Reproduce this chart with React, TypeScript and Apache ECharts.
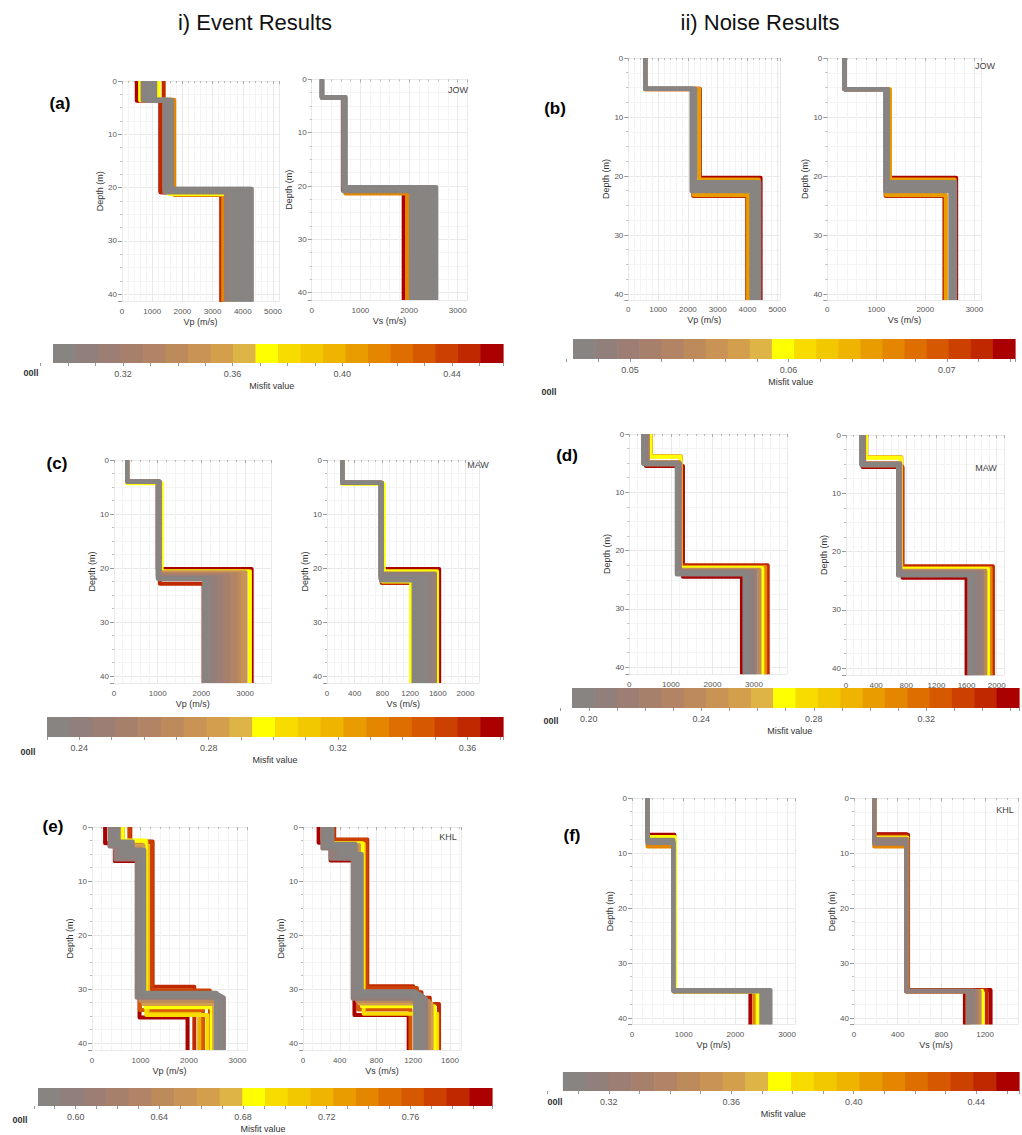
import React, { useEffect, useRef } from "react";
import * as echarts from "echarts";

// ---------------- colour scale: 20 bins, low misfit (grey) -> high misfit (red) -------------
const BAR_COLORS = [
  "#878482", "#917f7b", "#9c7e74", "#a7806c", "#b28465", "#bd8a5c", "#c89355", "#d39f4d", "#dfb446",
  "#ffff00", "#f8dc00", "#f2c800", "#eeb400", "#e99c00", "#e48600", "#de6e00", "#d65800", "#cc4000", "#c02800", "#aa0000",
];

// colour-bar extents [misfit at left end, misfit at right end]
const CB_A = [0.2945, 0.4586];
const CB_B = [0.0464, 0.0743];
const CB_C = [0.23, 0.371];
const CB_D = [0.194, 0.353];
const CB_E = [0.582, 0.799];
const CB_F = [0.305, 0.454];

// ---------------- velocity models: [misfit, v1, d1, v2, d2, ..., vN] (v in m/s, d in m) -------------
// (a) Event, JOW
const EV_JOW_VP = [
  [0.4545, 490, 3.7, 1270, 20.8, 3290],
  [0.4463, 1380, 3.6, 1280, 20.9, 3300],
  [0.4134, 900, 3.5, 1730, 21.4, 3350],
  [0.3724, 600, 3.6, 1560, 21.2, 3600],
  [0.3724, 1220, 3.5, 1560, 21.1, 3600],
  [0.3068, 680, 3.6, 1400, 20.9, 3440],
  [0.3068, 740, 3.5, 1430, 20.8, 3530],
  [0.2986, 800, 3.7, 1460, 20.7, 3620],
  [0.2986, 860, 3.6, 1490, 20.6, 3710],
  [0.2986, 920, 3.5, 1520, 20.6, 3800],
  [0.2986, 980, 3.7, 1550, 20.5, 3890],
  [0.2986, 1040, 3.6, 1580, 20.4, 3980],
  [0.2986, 1100, 3.5, 1610, 20.4, 4070],
  [0.2986, 1060, 3.6, 1640, 20.3, 4160],
  [0.2986, 950, 3.5, 1650, 20.2, 4250],
  [0.2986, 850, 3.6, 1620, 20.2, 4300],
];
const EV_JOW_VS = [
  [0.4545, 210, 3.4, 640, 20.8, 1890],
  [0.4134, 215, 3.5, 690, 21.4, 1960],
  [0.2986, 205, 3.4, 650, 21.0, 2040],
  [0.2986, 210, 3.3, 660, 20.9, 2100],
  [0.2986, 215, 3.4, 670, 20.8, 2160],
  [0.2986, 210, 3.5, 680, 20.7, 2220],
  [0.2986, 205, 3.4, 690, 20.6, 2280],
  [0.2986, 215, 3.3, 700, 20.5, 2340],
  [0.2986, 210, 3.4, 680, 20.4, 2400],
  [0.2986, 220, 3.5, 670, 20.3, 2460],
  [0.2986, 205, 3.4, 660, 20.2, 2520],
  [0.2986, 210, 3.3, 650, 20.2, 2560],
];
// (b) Noise, JOW
const NS_JOW_VP = [
  [0.0736, 570, 5.2, 2400, 20.3, 4440],
  [0.0722, 565, 5.3, 2180, 23.4, 3990],
  [0.0652, 570, 5.2, 2380, 20.6, 4380],
  [0.0652, 560, 5.3, 2200, 23.2, 4020],
  [0.0471, 570, 5.2, 2120, 22.6, 4130],
  [0.0471, 570, 5.2, 2150, 22.2, 4200],
  [0.0471, 570, 5.2, 2180, 21.8, 4270],
  [0.0471, 570, 5.2, 2220, 21.4, 4340],
  [0.0471, 570, 5.2, 2250, 21.0, 4400],
];
const NS_JOW_VS = [
  [0.0736, 350, 5.3, 1250, 20.3, 2630],
  [0.0722, 345, 5.3, 1190, 23.4, 2390],
  [0.0652, 350, 5.3, 1280, 20.6, 2600],
  [0.0652, 350, 5.3, 1200, 23.2, 2420],
  [0.0471, 350, 5.3, 1180, 22.6, 2510],
  [0.0471, 350, 5.3, 1195, 22.2, 2540],
  [0.0471, 350, 5.3, 1210, 21.8, 2570],
  [0.0471, 350, 5.3, 1225, 21.4, 2590],
  [0.0471, 350, 5.3, 1240, 21.0, 2610],
];
// (c) Event, MAW
const EV_MAW_VP = [
  [0.3675, 300, 4.0, 1000, 20.2, 3150],
  [0.3604, 300, 4.1, 1050, 22.9, 2050],
  [0.297, 300, 4.3, 1090, 20.6, 3110],
  [0.2758, 300, 4.0, 1040, 20.8, 3010],
  [0.2758, 300, 4.0, 1030, 21.0, 2940],
  [0.2688, 300, 4.0, 1020, 21.1, 2860],
  [0.2617, 300, 4.0, 1050, 21.2, 2780],
  [0.2617, 300, 4.0, 1010, 21.3, 2700],
  [0.2547, 300, 4.0, 1040, 21.4, 2620],
  [0.2547, 300, 4.0, 1000, 21.5, 2540],
  [0.2476, 300, 4.0, 1030, 21.6, 2460],
  [0.2476, 300, 4.0, 1010, 21.7, 2380],
  [0.2406, 300, 4.0, 1040, 21.8, 2300],
  [0.2406, 300, 4.0, 1020, 21.9, 2220],
  [0.2335, 300, 4.0, 1000, 22.0, 2140],
  [0.2335, 300, 4.0, 1030, 22.1, 2060],
];
const EV_MAW_VS = [
  [0.3675, 220, 4.2, 800, 20.2, 1620],
  [0.3604, 220, 4.3, 790, 22.8, 1300],
  [0.297, 220, 4.4, 820, 20.6, 1590],
  [0.297, 220, 4.2, 800, 22.5, 1215],
  [0.2476, 220, 4.2, 790, 21.0, 1560],
  [0.2406, 220, 4.2, 780, 21.2, 1520],
  [0.2406, 220, 4.2, 770, 21.4, 1480],
  [0.2335, 220, 4.2, 780, 21.6, 1440],
  [0.2335, 220, 4.2, 790, 21.8, 1400],
  [0.2335, 220, 4.2, 770, 22.0, 1360],
  [0.2335, 220, 4.2, 780, 22.1, 1320],
  [0.2335, 220, 4.2, 790, 22.2, 1280],
  [0.2335, 220, 4.2, 780, 22.3, 1250],
];
// (d) Noise, MAW
const NS_MAW_VP = [
  [0.349, 400, 5.5, 1290, 24.5, 2710],
  [0.3411, 420, 5.3, 1250, 22.5, 3330],
  [0.3093, 520, 3.8, 1240, 22.8, 3270],
  [0.2695, 510, 3.9, 1230, 23.0, 3200],
  [0.2377, 450, 4.8, 1200, 23.3, 3130],
  [0.2139, 430, 5.0, 1220, 23.5, 3040],
  [0.2059, 400, 5.1, 1200, 23.7, 2980],
  [0.2059, 380, 5.2, 1180, 23.8, 2920],
  [0.198, 360, 5.1, 1160, 23.9, 2860],
  [0.198, 340, 5.2, 1150, 24.0, 2810],
  [0.198, 330, 5.0, 1140, 24.1, 2770],
];
const NS_MAW_VS = [
  [0.349, 220, 5.5, 750, 24.5, 1600],
  [0.3411, 225, 5.3, 740, 22.5, 1950],
  [0.3093, 270, 3.8, 735, 22.8, 1920],
  [0.2695, 265, 3.9, 730, 23.0, 1885],
  [0.2377, 240, 4.8, 720, 23.3, 1850],
  [0.2139, 240, 5.0, 720, 23.5, 1810],
  [0.2059, 225, 5.1, 710, 23.7, 1770],
  [0.2059, 215, 5.2, 700, 23.8, 1730],
  [0.198, 210, 5.1, 690, 23.9, 1690],
  [0.198, 205, 5.2, 700, 24.0, 1660],
  [0.198, 200, 5.0, 690, 24.1, 1635],
];
// (e) Event, KHL
const EV_KHL_VP = [
  [0.7937, 270, 3.0, 470, 6.3, 980, 35.3, 1970],
  [0.7828, 790, 2.7, 1250, 29.6, 2110],
  [0.772, 770, 2.8, 1230, 30.3, 2430],
  [0.7611, 520, 4.5, 990, 33.9, 2290],
  [0.7177, 600, 3.5, 1150, 34.6, 2210],
  [0.696, 640, 2.6, 1120, 34.8, 2380],
  [0.6851, 620, 2.5, 1100, 33.4, 2470],
  [0.6634, 560, 3.4, 1060, 32.8, 2520],
  [0.6417, 470, 4.0, 1000, 32.2, 2560],
  [0.5983, 360, 3.6, 480, 6.0, 920, 31.6, 2720],
  [0.5983, 380, 3.5, 520, 5.8, 940, 31.5, 2700],
  [0.5983, 400, 3.4, 560, 5.6, 960, 31.4, 2680],
  [0.5874, 420, 3.3, 600, 5.4, 980, 31.3, 2660],
  [0.5874, 440, 3.2, 640, 5.2, 1000, 31.2, 2640],
  [0.5874, 460, 3.1, 680, 5.0, 1020, 31.1, 2620],
  [0.5874, 480, 3.0, 720, 4.8, 1040, 31.0, 2600],
  [0.5874, 500, 2.9, 760, 4.6, 1060, 30.9, 2580],
  [0.5874, 520, 2.8, 800, 4.4, 1070, 30.8, 2570],
  [0.5874, 540, 2.7, 840, 4.2, 1080, 30.7, 2560],
];
const EV_KHL_VS = [
  [0.7937, 170, 2.9, 300, 6.2, 560, 34.8, 1150],
  [0.7828, 340, 2.3, 700, 29.5, 1200, 30.6, 1290, 31.6, 1380, 32.8, 1480],
  [0.772, 330, 2.4, 690, 29.8, 1240],
  [0.7611, 250, 3.0, 480, 5.0, 600, 33.8, 1170],
  [0.696, 260, 3.1, 660, 34.6, 1460],
  [0.6851, 270, 3.0, 645, 33.2, 1430],
  [0.6634, 260, 3.3, 610, 32.7, 1400],
  [0.6417, 250, 3.5, 590, 32.2, 1370],
  [0.5983, 210, 4.0, 300, 5.9, 540, 31.8, 1340],
  [0.5983, 225, 3.9, 330, 5.8, 550, 31.6, 1325],
  [0.5983, 240, 3.8, 360, 5.7, 560, 31.4, 1310],
  [0.5874, 255, 3.7, 390, 5.6, 575, 31.2, 1295],
  [0.5874, 270, 3.6, 420, 5.5, 590, 31.0, 1280],
  [0.5874, 285, 3.5, 450, 5.4, 600, 30.9, 1265],
  [0.5874, 300, 3.4, 480, 5.3, 610, 30.8, 1250],
  [0.5874, 310, 3.3, 510, 5.2, 620, 30.7, 1240],
  [0.5874, 315, 3.2, 540, 5.1, 630, 30.5, 1230],
  [0.5874, 320, 3.1, 570, 5.0, 640, 30.4, 1220],
];
// (f) Noise, KHL
const NS_KHL_VP = [
  [0.4503, 300, 6.7, 820, 35.2, 2290],
  [0.4131, 300, 8.8, 815, 35.2, 2370],
  [0.3758, 300, 7.1, 830, 35.2, 2430],
  [0.3087, 300, 7.6, 800, 34.9, 2680],
  [0.3087, 300, 7.8, 795, 35.0, 2620],
  [0.3087, 300, 8.0, 805, 35.1, 2560],
  [0.3087, 300, 8.2, 800, 35.2, 2500],
];
const NS_KHL_VS = [
  [0.4503, 185, 6.6, 480, 35.2, 1015],
  [0.4503, 185, 6.7, 495, 34.9, 1250],
  [0.4429, 185, 6.8, 490, 34.9, 1215],
  [0.4131, 185, 8.8, 478, 35.2, 1040],
  [0.3758, 185, 7.2, 488, 35.1, 1175],
  [0.346, 185, 7.4, 485, 35.1, 1150],
  [0.3311, 185, 7.5, 482, 35.1, 1125],
  [0.3162, 185, 7.7, 478, 35.0, 1095],
  [0.3162, 185, 8.0, 482, 35.1, 1065],
  [0.3162, 185, 8.3, 476, 35.2, 1040],
];

// ---------------- texts -------------
const TITLES = ["i) Event Results", "ii) Noise Results"];
const PANEL_LETTERS = ["(a)", "(b)", "(c)", "(d)", "(e)", "(f)"];
const STATIONS = ["JOW", "JOW", "MAW", "MAW", "KHL", "KHL"];
const X_NAMES = ["Vp (m/s)", "Vs (m/s)"];
const Y_NAME = "Depth (m)";
const CB_NAME = "Misfit value";

// ---------------- layout (pixels) -------------
// per subplot: [px at v=0, px per m/s, xMax, xStep, minorSplit, py at depth 0, px per m, yMax]
const SUB_LAYOUT = [
  [122, 0.0302, 5200, 1000, 5, 81, 5.33, 41.4],
  [311.7, 0.04867, 3200, 1000, 5, 79.4, 5.33, 41.4],
  [628.3, 0.0298, 5100, 1000, 5, 58, 5.9, 41.0],
  [827.3, 0.049, 3150, 1000, 5, 58, 5.9, 41.0],
  [114, 0.0437, 3600, 1000, 5, 460, 5.4, 41.3],
  [327, 0.06925, 2200, 400, 4, 460, 5.4, 41.3],
  [629.3, 0.04157, 3800, 1000, 5, 434, 5.83, 41.2],
  [846, 0.07535, 2100, 400, 4, 435, 5.83, 41.2],
  [92, 0.0485, 3200, 1000, 5, 827, 5.4, 41.3],
  [303, 0.09188, 1720, 400, 4, 827, 5.4, 41.3],
  [632, 0.0517, 3150, 1000, 5, 798, 5.5, 41.2],
  [854, 0.10925, 1500, 400, 4, 798, 5.5, 41.2],
];
// per colour bar: [px left, px right, top, bottom, axisMin, tickStep, labelStep]
const CB_LAYOUT = [
  [53, 503, 344, 363, 0.29, 0.01, 0.04],
  [573, 1015, 339, 359, 0.046, 0.002, 0.01],
  [47, 503, 717, 737, 0.23, 0.01, 0.04],
  [572, 1020, 688, 708, 0.19, 0.01, 0.04],
  [38, 492, 1088, 1106, 0.58, 0.01, 0.04],
  [563, 1022, 1072, 1091, 0.3, 0.01, 0.04],
];
const TITLE_POS = [[255, 22], [760, 22]];
const LETTER_POS = [[60, 103], [555, 108], [57, 463], [567, 455], [53, 826], [572, 835]];
const STATION_POS = [[458, 90], [985, 66], [478, 465], [986, 468], [448, 837], [1005, 810]];
const STRAY_POS = [[31, 373], [549, 392], [28, 752], [551, 721], [20, 1120], [555, 1102]];

const SUBPLOTS = [
  { models: EV_JOW_VP, cb: CB_A }, { models: EV_JOW_VS, cb: CB_A },
  { models: NS_JOW_VP, cb: CB_B }, { models: NS_JOW_VS, cb: CB_B },
  { models: EV_MAW_VP, cb: CB_C }, { models: EV_MAW_VS, cb: CB_C },
  { models: NS_MAW_VP, cb: CB_D }, { models: NS_MAW_VS, cb: CB_D },
  { models: EV_KHL_VP, cb: CB_E }, { models: EV_KHL_VS, cb: CB_E },
  { models: NS_KHL_VP, cb: CB_F }, { models: NS_KHL_VS, cb: CB_F },
];
const COLORBARS = [CB_A, CB_B, CB_C, CB_D, CB_E, CB_F];

const FONT = "Liberation Sans";

function binOf(m: number, range: number[]) {
  const k = Math.floor(((m - range[0]) / (range[1] - range[0])) * BAR_COLORS.length);
  return Math.max(0, Math.min(BAR_COLORS.length - 1, k));
}

function stepPoints(model: number[], bottom: number) {
  const pts: number[][] = [];
  let top = 0;
  for (let i = 1; i < model.length; i += 2) {
    const v = model[i];
    const d = i + 1 < model.length ? model[i + 1] : bottom;
    pts.push([v, top], [v, d]);
    top = d;
  }
  return pts;
}

function buildOption() {
  const grid: any[] = [];
  const xAxis: any[] = [];
  const yAxis: any[] = [];
  const series: any[] = [];
  const labelStyle = { color: "#555", fontSize: 8, fontFamily: FONT };
  const nameStyle = { color: "#333", fontSize: 9, fontFamily: FONT };

  SUBPLOTS.forEach((sp, i) => {
    const [x0, xs, xMax, xStep, minor, y0, ys, yMax] = SUB_LAYOUT[i];
    grid.push({ left: x0, top: y0, width: xMax * xs, height: yMax * ys });
    xAxis.push({
      type: "value", gridIndex: i, min: 0, max: xMax, interval: xStep, position: "bottom",
      name: X_NAMES[i % 2], nameLocation: "middle", nameGap: 16, nameTextStyle: nameStyle,
      axisLine: { show: false },
      axisTick: { show: true, length: 3, lineStyle: { color: "#aaa" } },
      minorTick: { show: true, splitNumber: minor, length: 2, lineStyle: { color: "#bbb" } },
      axisLabel: {
        ...labelStyle, margin: 6,
        formatter: (v: number) => (Math.abs(v % xStep) < 1e-6 ? String(v) : ""),
      },
      splitLine: { show: true, lineStyle: { color: "#e9e9e9", width: 1 } },
      minorSplitLine: { show: true, lineStyle: { color: "#f4f4f4", width: 1 } },
    });
    yAxis.push({
      type: "value", gridIndex: i, min: 0, max: yMax, interval: 10, inverse: true,
      name: Y_NAME, nameLocation: "middle", nameGap: 15, nameRotate: 90, nameTextStyle: nameStyle,
      axisLine: { show: false },
      axisTick: { show: true, length: 4, lineStyle: { color: "#999" } },
      minorTick: { show: true, splitNumber: 4, length: 2, lineStyle: { color: "#bbb" } },
      axisLabel: {
        ...labelStyle, margin: 5,
        formatter: (v: number) => (Math.abs(v % 10) < 1e-6 ? String(v) : ""),
      },
      splitLine: { show: true, lineStyle: { color: "#e9e9e9", width: 1 } },
      minorSplitLine: { show: true, lineStyle: { color: "#f4f4f4", width: 1 } },
    });
    const sorted = [...sp.models].sort((p, q) => q[0] - p[0]);
    sorted.forEach((m) => {
      series.push({
        type: "line", xAxisIndex: i, yAxisIndex: i, data: stepPoints(m, yMax),
        showSymbol: false, symbol: "none", silent: true, animation: false,
        lineStyle: { width: 4, color: BAR_COLORS[binOf(m[0], sp.cb)], join: "round", cap: "butt" },
        z: 3,
      });
    });
  });

  COLORBARS.forEach((cb, j) => {
    const gi = SUBPLOTS.length + j;
    const [pl, pr, top, bottom, axisMin, tickStep, labelStep] = CB_LAYOUT[j];
    const s = (pr - pl) / (cb[1] - cb[0]);
    grid.push({ left: pl - (cb[0] - axisMin) * s, top, width: (cb[1] - axisMin) * s, height: bottom - top });
    xAxis.push({
      type: "value", gridIndex: gi, min: axisMin, max: cb[1], interval: tickStep, position: "bottom",
      name: CB_NAME, nameLocation: "middle", nameGap: 18, nameTextStyle: { ...nameStyle, fontSize: 9 },
      axisLine: { show: false },
      axisTick: { show: true, length: 3, lineStyle: { color: "#999" } },
      splitLine: { show: false },
      axisLabel: {
        color: "#555", fontSize: 9, fontFamily: FONT, margin: 6,
        formatter: (v: number) => {
          const r = v / labelStep;
          return Math.abs(r - Math.round(r)) < 1e-4 ? v.toFixed(2) : "";
        },
      },
    });
    yAxis.push({ type: "value", gridIndex: gi, min: 0, max: 1, show: false });
    const n = BAR_COLORS.length;
    const w = (cb[1] - cb[0]) / n;
    const bins = BAR_COLORS.map((_, k) => [cb[0] + k * w, cb[0] + (k + 1) * w, k]);
    series.push({
      type: "custom", xAxisIndex: gi, yAxisIndex: gi, data: bins, silent: true,
      encode: { x: [0, 1] },
      renderItem: (_p: any, api: any) => {
        const a = api.coord([api.value(0), 1]);
        const b = api.coord([api.value(1), 0]);
        return {
          type: "rect",
          shape: { x: a[0], y: a[1], width: b[0] - a[0] + 0.6, height: b[1] - a[1] },
          style: { fill: BAR_COLORS[api.value(2)] },
        };
      },
    });
  });

  const elements: any[] = [];
  const txt = (x: number, y: number, text: string, font: string, fill: string) => ({
    type: "text", x, y, z: 100, zlevel: 0,
    style: { text, fill, font, textAlign: "center", textVerticalAlign: "middle", verticalAlign: "middle" },
  });
  TITLES.forEach((t, k) => elements.push(txt(TITLE_POS[k][0], TITLE_POS[k][1], t, `22px "${FONT}"`, "#111")));
  PANEL_LETTERS.forEach((t, k) => elements.push(txt(LETTER_POS[k][0], LETTER_POS[k][1], t, `bold 17px "${FONT}"`, "#000")));
  STATIONS.forEach((t, k) => elements.push(txt(STATION_POS[k][0], STATION_POS[k][1], t, `9px "${FONT}"`, "#444")));
  STRAY_POS.forEach((p) => elements.push(txt(p[0], p[1], "00ll", `bold 9px "${FONT}"`, "#333")));

  return { animation: false, backgroundColor: "#ffffff", grid, xAxis, yAxis, series, graphic: { elements } };
}

export default function App() {
  const ref = useRef<HTMLDivElement>(null);
  useEffect(() => {
    if (!ref.current) return;
    const chart = echarts.init(ref.current, undefined, { renderer: "svg" });
    chart.setOption(buildOption() as any);
    return () => chart.dispose();
  }, []);
  return <div ref={ref} style={{ position: "absolute", left: 0, top: 0, width: 1022, height: 1135 }} />;
}
